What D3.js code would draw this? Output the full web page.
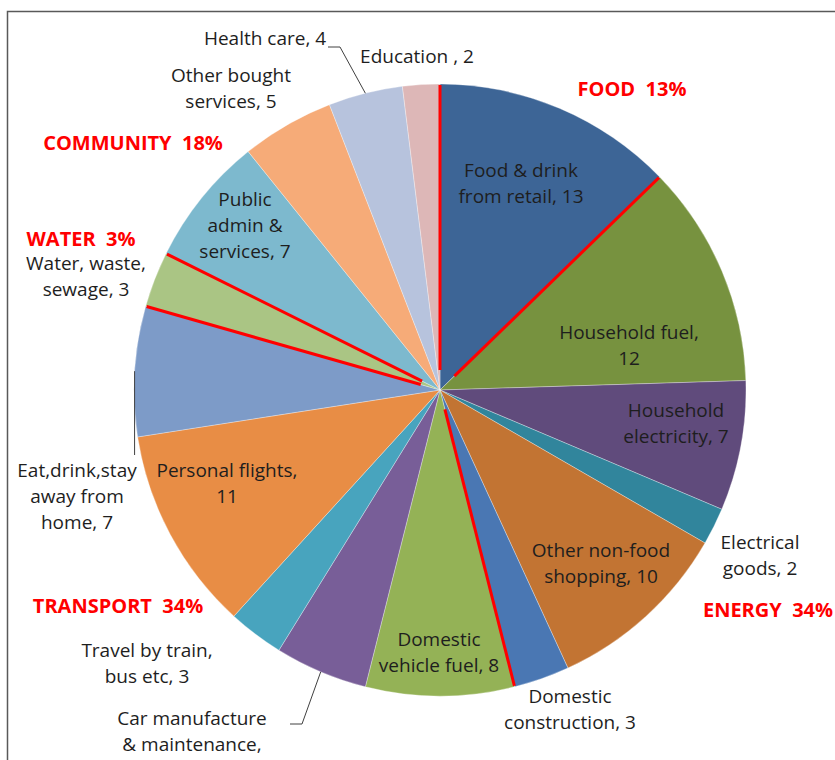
<!DOCTYPE html>
<html>
<head>
<meta charset="utf-8">
<script src="https://cdn.jsdelivr.net/npm/d3@7"></script>
<style>
  body { margin: 0; background: #fff; }
  svg { display: block; }
  text { font-family: "Open Sans", sans-serif; }
</style>
</head>
<body>
<svg id="chart" width="835" height="760"></svg>
<script>
//#region DATA /////////////////////////////////////////////////////////////////

// "|" marks a line break in the slice label
const categories = [
  "Food & drink|from retail", "Household fuel", "Household|electricity",
  "Electrical|goods", "Other non-food|shopping", "Domestic|construction",
  "Domestic|vehicle fuel", "Car manufacture|& maintenance",
  "Travel by train,|bus etc", "Personal flights", "Eat,drink,stay|away from|home",
  "Water, waste,|sewage", "Public|admin &|services", "Other bought|services",
  "Health care", "Education "
];
const values = [13, 12, 7, 2, 10, 3, 8, 5, 3, 11, 7, 3, 7, 5, 4, 2];

// which group each slice belongs to
const groupNames = ["FOOD", "ENERGY", "TRANSPORT", "WATER", "COMMUNITY"];
const groupShares = [13, 34, 34, 3, 18];
const groupOf = [0, 1, 1, 1, 1, 1, 2, 2, 2, 2, 2, 3, 4, 4, 4, 4];

//#endregion

//#region LAYOUT ///////////////////////////////////////////////////////////////

const CX = 440, CY = 390, R = 306;
const LINE_H = 26;

const colors = [
  "#3d6596", "#77923f", "#604b7c", "#31859c", "#c27433", "#4a77b3",
  "#94b256", "#785e98", "#48a4be", "#e88d45", "#7d9bc8", "#aac584",
  "#7db9ce", "#f6ab78", "#b7c3dd", "#ddb7b7"
];

// value goes onto its own line for these slices
const valueOnNewLine = [1, 7, 9];

// label block: centre x, first baseline
const labelPos = [
  [521, 177], [629, 339], [676, 417], [760, 549], [601, 557], [570, 703],
  [439, 646], [192, 725], [147, 657], [227, 477], [77, 477], [86, 270],
  [245, 206], [231, 82], [265, 45], [417, 63]
];

// group captions: centre x, baseline
const groupPos = [[632, 96], [768, 617], [118, 613], [81, 246], [133, 150]];

// leader lines: slice index and the bend points after the slice edge
const leaders = [
  { i: 14, pts: [[340, 47], [328, 47]] },
  { i: 10, pts: [[null, 455]] },
  { i: 7,  pts: [[302, 724], [290, 724]] }
];

//#endregion

//#region DRAW /////////////////////////////////////////////////////////////////

const svg = d3.select("#chart");

// frame
svg.append("path")
    .attr("d", "M7.5,760 V11.5 H835")
    .attr("fill", "none")
    .attr("stroke", "#595959")
    .attr("stroke-width", 1.5);

const pie = d3.pie().sort(null).value(d => d);
const arcs = pie(values);
const arc = d3.arc().innerRadius(0).outerRadius(R);

const g = svg.append("g").attr("transform", `translate(${CX},${CY})`);

g.selectAll("path.slice")
    .data(arcs)
    .join("path")
    .attr("class", "slice")
    .attr("d", arc)
    .attr("fill", (_d, i) => colors[i])
    .attr("stroke", "rgba(255,255,255,0.45)")
    .attr("stroke-width", 0.7);

// red dividers between groups
const polar = (a, r) => [r * Math.sin(a), -r * Math.cos(a)];
const bounds = arcs.filter((_d, i) =>
    groupOf[i] !== groupOf[(i - 1 + arcs.length) % arcs.length]);
g.selectAll("line.divider")
    .data(bounds)
    .join("line")
    .attr("class", "divider")
    .attr("x1", d => polar(d.startAngle, 20)[0])
    .attr("y1", d => polar(d.startAngle, 20)[1])
    .attr("x2", d => polar(d.startAngle, R - 1)[0])
    .attr("y2", d => polar(d.startAngle, R - 1)[1])
    .attr("stroke", "#ff0000")
    .attr("stroke-width", 3);

// leader lines
for (let l of leaders)
{
  let a = arcs[l.i];
  let p = polar((a.startAngle + a.endAngle) / 2, R);
  let start = [CX + p[0], CY + p[1]];
  let pts = [start].concat(l.pts.map(q => [q[0] === null ? start[0] : q[0], q[1]]));
  svg.append("path")
      .attr("d", d3.line()(pts))
      .attr("fill", "none")
      .attr("stroke", "#404040")
      .attr("stroke-width", 1);
}

// slice labels
const labelLines = (d, i) =>
    (categories[i] + "," + (valueOnNewLine.includes(i) ? "|" : " ") + d).split("|");

const labels = svg.selectAll("text.label")
    .data(values)
    .join("text")
    .attr("class", "label")
    .attr("text-anchor", "middle")
    .attr("font-size", 19)
    .attr("fill", "#1e1e1e")
    .attr("x", (_d, i) => labelPos[i][0])
    .attr("y", (_d, i) => labelPos[i][1]);

labels.each(function(d, i) {
  d3.select(this).selectAll("tspan")
      .data(labelLines(d, i))
      .join("tspan")
      .attr("x", labelPos[i][0])
      .attr("dy", (_t, j) => j === 0 ? 0 : LINE_H)
      .text(t => t);
});

// group captions
svg.selectAll("text.group")
    .data(groupNames)
    .join("text")
    .attr("class", "group")
    .attr("text-anchor", "middle")
    .attr("font-size", 20)
    .attr("font-weight", "bold")
    .attr("fill", "#ff0000")
    .attr("x", (_d, i) => groupPos[i][0])
    .attr("y", (_d, i) => groupPos[i][1])
    .text((d, i) => d + "\u00a0 " + groupShares[i] + "%");

//#endregion
</script>
</body>
</html>
